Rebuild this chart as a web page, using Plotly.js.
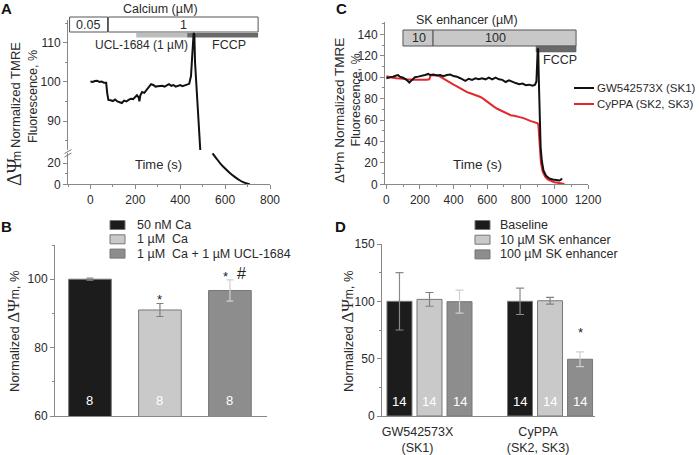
<!DOCTYPE html>
<html>
<head>
<meta charset="utf-8">
<script src="https://cdn.plot.ly/plotly-3.0.1.min.js"></script>
<style>html,body{margin:0;padding:0;background:#fff;}#chart{width:699px;height:455px;}</style>
</head>
<body>
<div id="chart"></div>
<script>
// ---------- Panel A: TMRE trace (broken y axis) ----------
const aTimeUpper = [0,10,20,30,40,50,60,70,75,80,90,100,110,120,130,140,150,160,170,180,190,200,207,215,218,222,230,240,250,260,270,280,290,300,310,320,330,340,350,360,370,380,390,400,410,420,430,440,448,453,457,460,463,466,490];
const aValUpper  = [100.1,100,100.2,100.3,100,100.1,99.8,99.8,97,95.4,95.3,95.1,95.5,95.0,94.8,94.6,95.2,95.0,95.4,95.7,95.6,96.2,96.6,96.0,95.0,96.5,97.4,97.2,98.0,98.5,99.4,99.2,98.8,98.9,99.0,99.0,98.8,99.2,99.4,99.0,99.2,98.8,99.0,99.2,98.9,99.1,99.3,99.5,101.5,105,110,112.5,112,105,82];
const aTimeLower = [544,560,580,600,620,640,660,680,700,710];
const aValLower  = [29.5,25,19.5,15,11,7.5,4.5,2,0.5,0];

// ---------- Panel B: bar chart ----------
const bGroups = ['50 nM Ca','1 µM  Ca','1 µM  Ca + 1 µM UCL-1684'];
const bMeans  = [100, 91, 96.7];
const bErrors = [0.3, 1.9, 3.1];
const bN      = ['8','8','8'];
const bSig    = ['', '*', '*'];

// ---------- Panel C: SK enhancer traces ----------
const cSeriesNames = ['GW542573X (SK1)','CyPPA (SK2, SK3)'];
const cTimeGW = [0,20,40,60,70,80,100,120,137,150,170,190,210,230,250,260,280,300,320,340,360,380,400,420,440,460,470,490,510,530,550,570,590,610,630,650,670,690,710,730,750,770,790,810,830,850,870,885,893,898,901,904,907,912,918,925,935,950,970,990,1010,1030,1040,1045];
const cValGW  = [99,99.5,100.5,101.5,102,100.5,99.5,97.5,95,97,100,100.5,101,102,103,102,102.5,101.5,102,101,102,102.5,101,100.5,99,97,96.5,98.5,97.5,99,98,99,98,99.5,98,99.5,98,97.5,95.5,97,95.5,94.5,93.5,94,92.5,93,92,93,96,110,127,125,100,60,35,22,13,8,5.5,4.5,4,3.5,4.5,5.5];
const cTimeCy = [0,20,40,60,80,100,120,140,160,180,200,220,240,255,265,280,300,320,340,360,380,400,420,440,460,480,500,520,540,560,580,600,620,640,660,680,700,720,740,760,780,800,820,840,860,880,900,905,910,915,920,930,945,960,980,1000,1020,1040,1060];
const cValCy  = [101,100,99.5,99,99,98.5,98,97.5,97.5,97.5,97.5,97,97.5,98,102,101.5,102,100.5,98.5,96.5,94.5,93,91.5,89.5,88,86,85,84,82.5,81.5,79.5,77,75,72.5,70.5,69,67.5,66,64.5,64,63.5,62.5,61.5,60,59,58,57,55,45,30,20,12,7,4.5,3,2,1.5,1,0.3];

// ---------- Panel D: grouped bars ----------
const dCategories = ['GW542573X<br>(SK1)','CyPPA<br>(SK2, SK3)'];
const dSeries     = ['Baseline','10 µM SK enhancer','100 µM SK enhancer'];
const dBaseline    = [100, 100];
const dBaselineErr = [25, 11.5];
const d10          = [101.7, 100.5];
const d10Err       = [6, 3];
const d100         = [99.7, 49.5];
const d100Err      = [10, 6.5];
const dN           = ['14','14'];

// ---------- helpers ----------
const W = 699, H = 455;
const fx = p => p / W;
const fy = p => 1 - p / H;
const AX = '#888', TXT = '#2a2a2a';
const SANS = 'Liberation Sans, Arial, sans-serif';
const SERIF = 'Liberation Serif';
const barCols = ['#1c1c1c', '#c9c9c9', '#8d8d8d'];
const errCols = ['#8a8a8a', '#808080', '#cfcfcf'];

function axisBase(extra) {
  return Object.assign({
    showline: true, linecolor: AX, linewidth: 1, showgrid: false, zeroline: false,
    ticks: 'outside', ticklen: 4, tickcolor: AX, tickwidth: 1,
    tickfont: {family: SANS, size: 12, color: TXT}, fixedrange: true
  }, extra);
}

const traces = [];
// A
traces.push({x: aTimeUpper, y: aValUpper, xaxis: 'x', yaxis: 'y', type: 'scatter', mode: 'lines',
  line: {color: '#111', width: 2}, hoverinfo: 'skip'});
traces.push({x: aTimeLower, y: aValLower, xaxis: 'x', yaxis: 'y2', type: 'scatter', mode: 'lines',
  line: {color: '#111', width: 2, shape: 'spline'}, hoverinfo: 'skip'});
// C
traces.push({x: cTimeCy, y: cValCy, xaxis: 'x2', yaxis: 'y3', type: 'scatter', mode: 'lines', name: cSeriesNames[1],
  line: {color: '#e0282e', width: 2}, hoverinfo: 'skip'});
traces.push({x: cTimeGW, y: cValGW, xaxis: 'x2', yaxis: 'y3', type: 'scatter', mode: 'lines', name: cSeriesNames[0],
  line: {color: '#111', width: 2}, hoverinfo: 'skip'});
// B
bGroups.forEach((g, i) => {
  traces.push({type: 'bar', x: [g], y: [bMeans[i]], name: g, xaxis: 'x3', yaxis: 'y4',
    offsetgroup: 'b', width: 0.61, base: 0,
    marker: {color: barCols[i], line: {color: '#777', width: 1}},
    error_y: {type: 'data', array: [bErrors[i]], visible: true, color: errCols[i], thickness: 1.2, width: 3.5},
    hoverinfo: 'skip'});
});
// D
const dVals = [dBaseline, d10, d100];
const dErrs = [dBaselineErr, d10Err, d100Err];
dSeries.forEach((s, i) => {
  traces.push({type: 'bar', x: dCategories, y: dVals[i], name: s, xaxis: 'x4', yaxis: 'y5',
    marker: {color: barCols[i], line: {color: '#777', width: 1}},
    error_y: {type: 'data', array: dErrs[i], visible: true, color: errCols[i], thickness: 1.2, width: 4},
    hoverinfo: 'skip'});
});

const layout = {
  width: W, height: H, margin: {l: 0, r: 0, t: 0, b: 0},
  paper_bgcolor: '#fff', plot_bgcolor: 'rgba(0,0,0,0)', showlegend: false,
  font: {family: SANS, size: 12, color: TXT},
  barmode: 'group', bargap: 0.253, bargroupgap: 0.167,
  // Panel A
  xaxis: axisBase({domain: [fx(68), fx(270)], range: [-100, 800], anchor: 'y2', dtick: 200, tick0: 0,
    minor: {dtick: 100, ticks: 'outside', ticklen: 2, tickcolor: AX}}),
  yaxis: axisBase({domain: [fy(150), fy(20)], range: [82.6, 115.8], anchor: 'x', dtick: 10, tick0: 0,
    minor: {dtick: 5, ticks: 'outside', ticklen: 2, tickcolor: AX}}),
  yaxis2: axisBase({domain: [fy(184.3), fy(153)], range: [0, 29.8], anchor: 'x', dtick: 20, tick0: 0,
    minor: {dtick: 10, ticks: 'outside', ticklen: 2, tickcolor: AX}}),
  // Panel C
  xaxis2: axisBase({domain: [fx(385), fx(588)], range: [-8, 1200], anchor: 'y3', dtick: 200, tick0: 0,
    minor: {dtick: 100, ticks: 'outside', ticklen: 2, tickcolor: AX}}),
  yaxis3: axisBase({domain: [fy(184.3), fy(22)], range: [0, 151.5], anchor: 'x2', dtick: 20, tick0: 0,
    minor: {dtick: 10, ticks: 'outside', ticklen: 2, tickcolor: AX}}),
  // Panel B
  xaxis3: axisBase({domain: [fx(55), fx(267)], range: [-0.5, 2.53], anchor: 'y4', type: 'category',
    ticks: '', showticklabels: false}),
  yaxis4: axisBase({domain: [fy(416), fy(245)], range: [60, 110], anchor: 'x3', dtick: 20, tick0: 0,
    minor: {dtick: 10, ticks: 'outside', ticklen: 2, tickcolor: AX}}),
  // Panel D
  xaxis4: axisBase({domain: [fx(382), fx(595)], range: [-0.394, 1.373], anchor: 'y5', type: 'category',
    ticks: '', ticklabelshift: -12, ticklabelstandoff: 4, tickfont: {family: SANS, size: 12.5, color: TXT}}),
  yaxis5: axisBase({domain: [fy(416), fy(244)], range: [0, 150], anchor: 'x4', dtick: 50, tick0: 0,
    minor: {dtick: 25, ticks: 'outside', ticklen: 2, tickcolor: AX}}),
  shapes: [], annotations: []
};

const S = layout.shapes, A = layout.annotations;
// Panel A treatment boxes
S.push({type: 'rect', xref: 'x', yref: 'paper', x0: -93, x1: 76, y0: fy(32), y1: fy(17), line: {color: '#555', width: 1}, fillcolor: '#fff'});
S.push({type: 'rect', xref: 'x', yref: 'paper', x0: 80, x1: 747, y0: fy(32), y1: fy(17), line: {color: '#555', width: 1}, fillcolor: '#fff'});
S.push({type: 'rect', xref: 'x', yref: 'paper', x0: 204, x1: 431, y0: fy(37.5), y1: fy(33), line: {width: 0}, fillcolor: '#bdbdbd', layer: 'below'});
S.push({type: 'rect', xref: 'x', yref: 'paper', x0: 431, x1: 747, y0: fy(37.5), y1: fy(33), line: {width: 0}, fillcolor: '#6a6a6a', layer: 'below'});
// axis break marks
S.push({type: 'line', xref: 'paper', yref: 'paper', x0: fx(64.5), y0: fy(153.5), x1: fx(71.5), y1: fy(149.5), line: {color: '#777', width: 1}});
S.push({type: 'line', xref: 'paper', yref: 'paper', x0: fx(64.5), y0: fy(157), x1: fx(71.5), y1: fy(153), line: {color: '#777', width: 1}});
// Panel C treatment boxes
S.push({type: 'rect', xref: 'x2', yref: 'paper', x0: 99, x1: 278, y0: fy(46), y1: fy(30), line: {color: '#555', width: 1}, fillcolor: '#c8c8c8', layer: 'below'});
S.push({type: 'rect', xref: 'x2', yref: 'paper', x0: 278, x1: 1129, y0: fy(46), y1: fy(30), line: {color: '#555', width: 1}, fillcolor: '#c8c8c8', layer: 'below'});
S.push({type: 'rect', xref: 'x2', yref: 'paper', x0: 891, x1: 1129, y0: fy(52), y1: fy(46), line: {color: '#555', width: 0.5}, fillcolor: '#6a6a6a', layer: 'below'});

function txt(text, x, y, size, opts) {
  A.push(Object.assign({text: text, x: x, y: y, xref: 'paper', yref: 'paper', showarrow: false,
    font: {family: SANS, size: size, color: TXT}, xanchor: 'center', yanchor: 'middle'}, opts || {}));
}
// panel letters
txt('<b>A</b>', fx(6), fy(8), 15, {font: {family: SANS, size: 15, color: '#111'}});
txt('<b>B</b>', fx(6), fy(226), 15, {font: {family: SANS, size: 15, color: '#111'}});
txt('<b>C</b>', fx(341), fy(8), 15, {font: {family: SANS, size: 15, color: '#111'}});
txt('<b>D</b>', fx(340), fy(226), 15, {font: {family: SANS, size: 15, color: '#111'}});

const psi = (sz, msz) => '<span style="font-family:' + SERIF + ';font-size:' + sz + 'px">ΔΨ</span><span style="font-size:' + msz + 'px">m</span>';

// Panel A texts
txt('Calcium (µM)', fx(160), fy(9), 12.5);
txt('0.05', fx(88), fy(25), 12.5);
txt('1', fx(183), fy(25), 12.5);
txt('UCL-1684 (1 µM)', fx(141), fy(45), 12);
txt('FCCP', fx(228.5), fy(45), 12.5);
txt('Time (s)', fx(158), fy(164), 13);
txt('ΔΨ', fx(14), fy(172), 20, {textangle: -90, font: {family: SERIF, size: 20, color: TXT}});
txt('m', fx(16.5), fy(156.5), 12, {textangle: -90});
txt('Normalized TMRE', fx(15), fy(95), 13, {textangle: -90});
txt('Fluorescence, %', fx(33), fy(97), 12.5, {textangle: -90});

// Panel C texts
txt('SK enhancer (µM)', fx(467), fy(20), 12.5);
txt('10', fx(419), fy(38), 12.5);
txt('100', fx(495), fy(38), 12.5);
txt('FCCP', fx(560), fy(60), 12.5);
txt('Time (s)', fx(477), fy(164), 13.5);
txt('ΔΨm Normalized TMRE', fx(339), fy(111), 13.5, {textangle: -90});
txt('Fluorescence, %', fx(355.5), fy(100), 12.5, {textangle: -90});
// Panel C legend
const cLegCols = ['#111', '#e0282e'];
cSeriesNames.forEach((n, i) => {
  const yy = 88 + i * 16;
  S.push({type: 'line', xref: 'paper', yref: 'paper', x0: fx(574), x1: fx(594), y0: fy(yy), y1: fy(yy), line: {color: cLegCols[i], width: 2}});
  txt(n, fx(595), fy(yy), 11.5, {xanchor: 'left'});
});

// Panel B texts
txt('Normalized ' + psi(17, 12) + ', %', fx(13), fy(331), 13, {textangle: -90});
bGroups.forEach((g, i) => {
  const yy = 225 + i * 14.3;
  S.push({type: 'rect', xref: 'paper', yref: 'paper', x0: fx(110), x1: fx(125), y0: fy(yy + 4.5), y1: fy(yy - 4.5), fillcolor: barCols[i], line: {color: '#777', width: 1}});
  txt(g, fx(135), fy(yy), 12.5, {xanchor: 'left'});
  A.push({text: bN[i], x: g, y: 64.4, xref: 'x3', yref: 'y4', showarrow: false, font: {family: SANS, size: 13, color: '#fff'}});
});
A.push({text: bSig[1], x: 1, y: 94.2, xref: 'x3', yref: 'y4', showarrow: false, font: {family: SANS, size: 13, color: '#222'}});
A.push({text: bSig[2], x: 1.94, y: 100.7, xref: 'x3', yref: 'y4', showarrow: false, font: {family: SANS, size: 13, color: '#222'}});
A.push({text: '#', x: 2.17, y: 101.6, xref: 'x3', yref: 'y4', showarrow: false, font: {family: SANS, size: 16, color: '#222'}});

// Panel D texts
txt('Normalized ' + psi(17, 12) + ', %', fx(347), fy(331), 13, {textangle: -90});
dSeries.forEach((s, i) => {
  const yy = 225 + i * 14.7;
  S.push({type: 'rect', xref: 'paper', yref: 'paper', x0: fx(475), x1: fx(490), y0: fy(yy + 4.5), y1: fy(yy - 4.5), fillcolor: barCols[i], line: {color: '#777', width: 1}});
  txt(s, fx(498), fy(yy), 12.5, {xanchor: 'left'});
});
const slot = (1 - layout.bargap) / 3;
dCategories.forEach((c, ci) => {
  [-1, 0, 1].forEach(k => {
    A.push({text: dN[ci], x: ci + k * slot, y: 13, xref: 'x4', yref: 'y5', showarrow: false, font: {family: SANS, size: 13, color: '#fff'}});
  });
});
A.push({text: '*', x: 1 + slot, y: 73.2, xref: 'x4', yref: 'y5', showarrow: false, font: {family: SANS, size: 13, color: '#222'}});

Plotly.newPlot('chart', traces, layout, {staticPlot: true, displayModeBar: false});
</script>
</body>
</html>
